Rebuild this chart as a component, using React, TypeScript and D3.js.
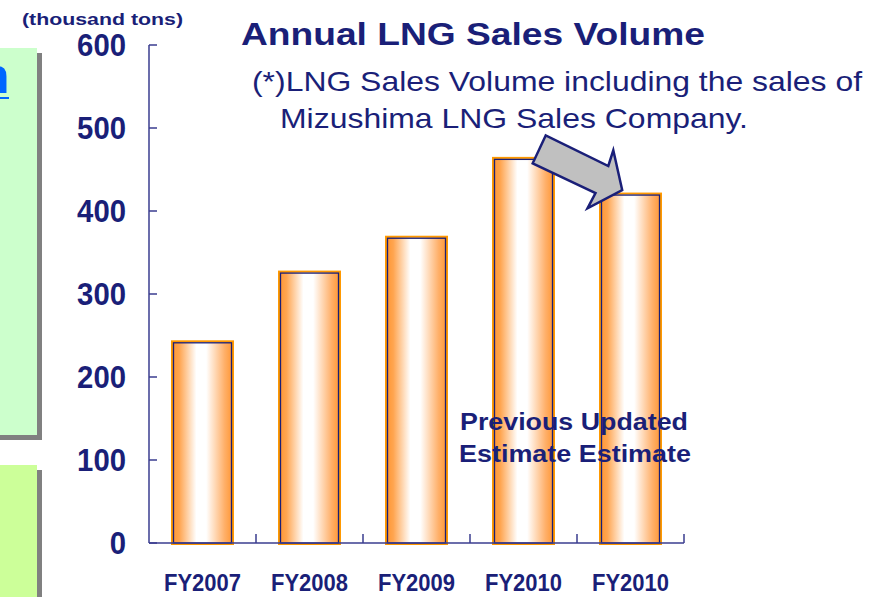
import React from "react";
import * as d3 from "d3";

const categories = ["FY2007", "FY2008", "FY2009", "FY2010", "FY2010"];
const values = [243, 327, 369, 464, 421];
const yTicks = [0, 100, 200, 300, 400, 500, 600];

const W = 881;
const H = 597;
const NAVY = "#1a1f78";
const AXIS = "#3a3d8f";

export default function App() {
  const x = d3
    .scaleBand<number>()
    .domain(categories.map((_, i) => i))
    .range([149, 684])
    .paddingInner(0.43)
    .paddingOuter(0.215);
  const y = d3.scaleLinear().domain([0, 600]).range([543, 45]);
  const bw = x.bandwidth();
  const step = x.step();
  const x0 = 149;
  const x1 = 684;
  const boundaries = categories.map((_, i) => x0 + step * (i + 1));

  const arrow = "M545.7,135.5 L532.7,163.3 L595.5,193 L587.5,208.3 L622.2,190 L613.3,150.3 L608.3,166 Z";

  const font = "Arial, 'Liberation Sans', Helvetica, sans-serif";

  return (
    <svg
      width={W}
      height={H}
      style={{ position: "absolute", left: 0, top: 0, background: "#fff" }}
      fontFamily={font}
    >
      <defs>
        <linearGradient id="barGrad" x1="0" x2="1" y1="0" y2="0">
          <stop offset="0" stopColor="#ff9530" />
          <stop offset="0.12" stopColor="#ffa550" />
          <stop offset="0.4" stopColor="#ffffff" />
          <stop offset="0.56" stopColor="#ffffff" />
          <stop offset="0.86" stopColor="#ffb06a" />
          <stop offset="1" stopColor="#ff9530" />
        </linearGradient>
      </defs>
      <rect x={0} y={0} width={W} height={H} fill="#fff" />

      {/* left panels */}
      <rect x={37} y={53} width={5} height={387} fill="#808080" />
      <rect x={0} y={435} width={42} height={5} fill="#808080" />
      <rect x={0} y={48} width={37} height={387} fill="#ccffcc" />
      <text x={-21} y={93} fontSize={50} fontWeight="bold" fill="#0066ff">
        n
      </text>
      <rect x={0} y={97} width={9} height={2} fill="#0066ff" />
      <rect x={37} y={470} width={5} height={H - 470} fill="#808080" />
      <rect x={0} y={465} width={37} height={H - 465} fill="#ccff99" />

      {/* unit label */}
      <text x={22} y={25} fontSize={17} fontWeight="bold" fill={NAVY} textLength={161} lengthAdjust="spacingAndGlyphs">
        (thousand tons)
      </text>

      {/* title */}
      <text x={241} y={45} fontSize={31} fontWeight="bold" fill={NAVY} textLength={464} lengthAdjust="spacingAndGlyphs">
        Annual LNG Sales Volume
      </text>
      <text x={252} y={91} fontSize={28} fill={NAVY} textLength={610} lengthAdjust="spacingAndGlyphs">
        (*)LNG Sales Volume including the sales of
      </text>
      <text x={280} y={128} fontSize={28} fill={NAVY} textLength={468} lengthAdjust="spacingAndGlyphs">
        Mizushima LNG Sales Company.
      </text>

      {/* bars */}
      {values.map((v, i) => {
        const bx = x(i)!;
        const by = y(v);
        const bh = y(0) - by;
        return (
          <g key={i}>
            <rect x={bx} y={by} width={bw} height={bh + 1} fill="url(#barGrad)" stroke="#ff9900" strokeWidth={2} />
            <rect x={bx + 1.5} y={by + 1.5} width={bw - 3} height={bh - 1.5} fill="none" stroke={NAVY} strokeWidth={1.3} />
          </g>
        );
      })}

      {/* axes */}
      <line x1={x0} x2={x0} y1={y(600)} y2={y(0)} stroke={AXIS} strokeWidth={1.5} />
      {yTicks.map((t) => (
        <g key={t}>
          <line x1={x0} x2={x0 + 8} y1={y(t)} y2={y(t)} stroke={AXIS} strokeWidth={1.5} />
          <text
            x={126}
            y={y(t)}
            dy="0.36em"
            textAnchor="end"
            fontSize={31}
            fontWeight="bold"
            fill={NAVY}
            textLength={String(t).length * 16.3}
            lengthAdjust="spacingAndGlyphs"
          >
            {t}
          </text>
        </g>
      ))}
      <line x1={x0} x2={x1} y1={y(0)} y2={y(0)} stroke={AXIS} strokeWidth={1.5} />
      {boundaries.map((b, i) => (
        <line key={i} x1={b} x2={b} y1={y(0)} y2={y(0) - 9} stroke={AXIS} strokeWidth={1.5} />
      ))}
      {categories.map((c, i) => (
        <text key={i} x={x(i)! + bw / 2} y={591} textAnchor="middle" fontSize={23} fontWeight="bold" fill={NAVY} textLength={77} lengthAdjust="spacingAndGlyphs">
          {c}
        </text>
      ))}

      {/* annotations */}
      <path d={arrow} fill="#c0c0c0" stroke={NAVY} strokeWidth={2.5} strokeLinejoin="miter" />
      <text x={460} y={430} fontSize={24} fontWeight="bold" fill={NAVY} textLength={228} lengthAdjust="spacingAndGlyphs">
        Previous Updated
      </text>
      <text x={459} y={462} fontSize={24} fontWeight="bold" fill={NAVY} textLength={232} lengthAdjust="spacingAndGlyphs">
        Estimate Estimate
      </text>
    </svg>
  );
}
